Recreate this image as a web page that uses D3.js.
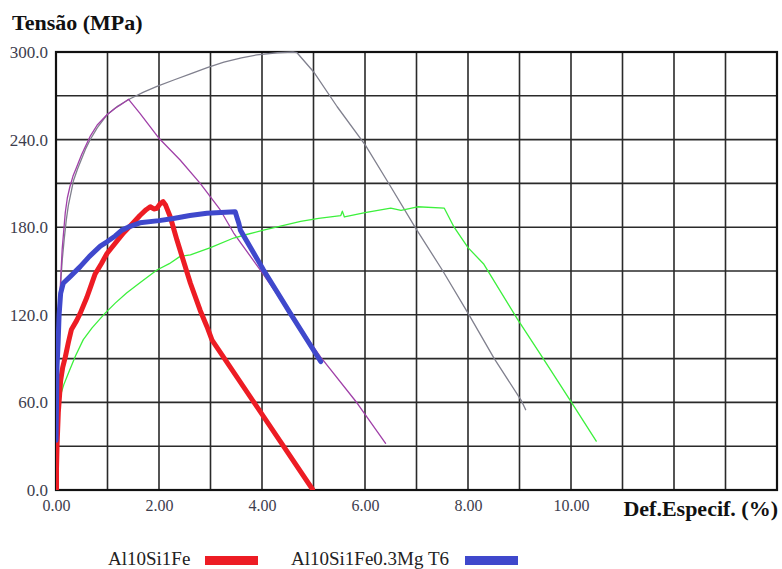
<!DOCTYPE html>
<html>
<head>
<meta charset="utf-8">
<script src="https://cdn.jsdelivr.net/npm/d3@7"></script>
<style>
  html, body { margin: 0; padding: 0; background: #fff; }
  svg { display: block; }
  svg text { font-family: "Liberation Serif", "Times New Roman", Times, serif; }
</style>
</head>
<body>
<svg id="chart" width="782" height="569"></svg>
<script>
// ---------- data (strain %, stress MPa) ----------
const xTickValues = [0, 2, 4, 6, 8, 10];
const yTickValues = [0, 60, 120, 180, 240, 300];
const legendLabels = ["Al10Si1Fe", "Al10Si1Fe0.3Mg T6"];

const al10si1fe = [
  [0.01, 0], [0.01, 15], [0.02, 30], [0.045, 53], [0.09, 75], [0.13, 84], [0.18, 91],
  [0.24, 101], [0.3, 110], [0.4, 116], [0.47, 121], [0.6, 132], [0.68, 140], [0.76, 148],
  [0.88, 155], [0.99, 162], [1.15, 169], [1.31, 176], [1.5, 183], [1.63, 188],
  [1.75, 192], [1.83, 194], [1.9, 192.5], [1.96, 193], [2.02, 196], [2.08, 197.5],
  [2.13, 195], [2.22, 187], [2.35, 171], [2.61, 141.6], [2.8, 123], [2.93, 112],
  [3.03, 102.7], [4.98, 0.5]
];

const al10si1fe03mgT6 = [
  [0, 34], [0.01, 60], [0.02, 85], [0.04, 100], [0.06, 120], [0.09, 134.7], [0.14, 141.6],
  [0.27, 146], [0.47, 153], [0.65, 160], [0.86, 167], [0.99, 170], [1.15, 174], [1.28, 178],
  [1.4, 180], [1.63, 183], [2.0, 184.5], [2.28, 186], [2.6, 188], [2.93, 189.5],
  [3.2, 190], [3.48, 190.6], [3.52, 186], [3.55, 182.7], [3.58, 178], [4.03, 150.7],
  [4.55, 121], [5.14, 88]
];

const greenCurve = [
  [0, 0], [0.005, 20], [0.01, 46], [0.04, 56], [0.08, 64], [0.15, 72], [0.24, 80],
  [0.38, 92], [0.53, 103], [0.7, 111], [0.95, 121], [1.15, 128], [1.37, 135], [1.63, 142],
  [1.96, 150.7], [2.2, 155], [2.41, 160], [2.61, 161], [3.0, 166], [3.45, 172.6],
  [3.7, 175], [4.03, 178], [4.4, 181], [4.75, 184], [5.1, 186], [5.53, 188],
  [5.56, 191], [5.6, 187], [6.0, 190], [6.5, 193], [6.7, 191.5], [7.02, 194],
  [7.54, 193], [7.73, 180], [8.0, 166], [8.3, 155], [8.96, 117], [9.48, 89],
  [10.0, 60.5], [10.49, 33.5]
];

const grayCurve = [
  [0.0, 0], [0.02, 60], [0.05, 110], [0.08, 135], [0.12, 157], [0.16, 172], [0.2, 185],
  [0.24, 195], [0.3, 205], [0.34, 212], [0.42, 220], [0.5, 227], [0.58, 234], [0.66, 239.7],
  [0.8, 248], [0.99, 257], [1.2, 263], [1.44, 268], [1.7, 272.5], [1.96, 276.5],
  [2.3, 281], [2.61, 285], [2.95, 289.5], [3.26, 293], [3.6, 296], [3.9, 298],
  [4.3, 299.5], [4.6, 300], [4.68, 299.5], [5.0, 286.5], [5.46, 262.5], [6.01, 236],
  [6.5, 207.7], [6.98, 179.5], [7.5, 150.7], [8.02, 120], [8.51, 90], [9.03, 61.6],
  [9.12, 55]
];

const purpleCurve = [
  [0, 0], [0.02, 60], [0.05, 110], [0.08, 137], [0.12, 165], [0.18, 190], [0.22, 200],
  [0.27, 207.7], [0.33, 215], [0.4, 221], [0.5, 230], [0.66, 242], [0.8, 250], [0.99, 257],
  [1.15, 261.5], [1.25, 263.7], [1.41, 267.6], [1.63, 258], [1.99, 241.3], [2.41, 226],
  [2.8, 210], [3.19, 191.8], [3.45, 176], [4.0, 149], [4.6, 118], [5.14, 91],
  [5.85, 59.4], [6.4, 32]
];

// ---------- layout ----------
const svg = d3.select("#chart");
const pLeft = 56, pRight = 777, pTop = 52, pBottom = 490;

const x = d3.scaleLinear().domain([0, 14]).range([pLeft, pRight]);
const y = d3.scaleLinear().domain([0, 300]).range([pBottom, pTop]);

// grid
const gx = d3.range(0, 15, 1);
const gy = d3.range(0, 301, 30);
svg.append("g").selectAll("line").data(gx).join("line")
  .attr("x1", d => x(d)).attr("x2", d => x(d))
  .attr("y1", pTop).attr("y2", pBottom)
  .attr("stroke", "#2a2a2a").attr("stroke-width", 1.6);
svg.append("g").selectAll("line").data(gy).join("line")
  .attr("x1", pLeft).attr("x2", pRight)
  .attr("y1", d => y(d)).attr("y2", d => y(d))
  .attr("stroke", "#2a2a2a").attr("stroke-width", 1.6);

// border
svg.append("rect").attr("x", pLeft).attr("y", pTop)
  .attr("width", pRight - pLeft).attr("height", pBottom - pTop)
  .attr("fill", "none").attr("stroke", "#111").attr("stroke-width", 2.2);

// axes (labels only)
const yAxis = d3.axisLeft(y).tickValues(yTickValues).tickFormat(d3.format(".1f")).tickSize(0).tickPadding(8);
const ya = svg.append("g").attr("transform", `translate(${pLeft},0)`).call(yAxis);
ya.attr("font-family", null);
ya.select(".domain").remove();
ya.selectAll("text").style("font-size", "17px").attr("fill", "#3d3d4d");

const xAxis = d3.axisBottom(x).tickValues(xTickValues).tickFormat(d3.format(".2f")).tickSize(0).tickPadding(10);
const xa = svg.append("g").attr("transform", `translate(0,${pBottom})`).call(xAxis);
xa.attr("font-family", null);
xa.select(".domain").remove();
xa.selectAll("text").style("font-size", "16px").attr("fill", "#3d3d4d");

// titles
svg.append("text").attr("x", 12).attr("y", 30)
  .style("font-weight", "bold").style("font-size", "22px")
  .attr("fill", "#111").text("Tensão (MPa)");
svg.append("text").attr("x", 778).attr("y", 516).attr("text-anchor", "end")
  .style("font-weight", "bold").style("font-size", "22px")
  .attr("fill", "#111").text("Def.Especif. (%)");

// curves
svg.append("clipPath").attr("id", "clip").append("rect")
  .attr("x", pLeft).attr("y", pTop - 3).attr("width", pRight - pLeft).attr("height", pBottom - pTop + 3);
const line = d3.line().x(d => x(d[0])).y(d => y(d[1]));
const series = [
  { data: grayCurve, color: "#80808e", width: 1.3 },
  { data: purpleCurve, color: "#a040a8", width: 1.3 },
  { data: greenCurve, color: "#3cf03c", width: 1.3 },
  { data: al10si1fe, color: "#ed1c24", width: 5 },
  { data: al10si1fe03mgT6, color: "#3f48cc", width: 5 }
];
const cg = svg.append("g").attr("clip-path", "url(#clip)");
cg.selectAll("path").data(series).join("path")
  .attr("d", d => line(d.data))
  .attr("fill", "none")
  .attr("stroke", d => d.color)
  .attr("stroke-width", d => d.width)
  .attr("stroke-linejoin", "round")
  .attr("stroke-linecap", "round");

// legend
const legendX = [108, 291];
const swatchX = [205, 465];
const legendColors = ["#ed1c24", "#3f48cc"];
const lg = svg.append("g");
legendLabels.forEach((lab, i) => {
  lg.append("text").attr("x", legendX[i]).attr("y", 565)
    .style("font-size", "19px").attr("fill", "#222").text(lab);
  lg.append("rect").attr("x", swatchX[i]).attr("y", 556).attr("width", 53).attr("height", 9)
    .attr("fill", legendColors[i]);
});
</script>
</body>
</html>
